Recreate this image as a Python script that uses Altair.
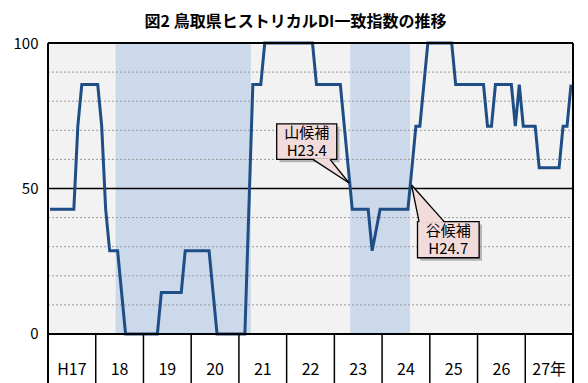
import altair as alt
import pandas as pd

FONT = "Noto Sans CJK JP"

title_text = "図2 鳥取県ヒストリカルDI一致指数の推移"
year_labels = ["H17", "18", "19", "20", "21", "22", "23", "24", "25", "26", "27年"]
year_bounds = [0, 12, 24, 36, 48, 60, 72, 84, 96, 108, 120, 132]

# monthly historical DI (coincident), H17.1 .. H27.12
di_values = [
    42.9, 42.9, 42.9, 42.9, 42.9, 42.9, 42.9, 71.4, 85.7, 85.7, 85.7, 85.7,   # H17
    85.7, 71.4, 42.9, 28.6, 28.6, 28.6, 14.3, 0.0, 0.0, 0.0, 0.0, 0.0,        # H18
    0.0, 0.0, 0.0, 0.0, 14.3, 14.3, 14.3, 14.3, 14.3, 14.3, 28.6, 28.6,       # H19
    28.6, 28.6, 28.6, 28.6, 28.6, 14.3, 0.0, 0.0, 0.0, 0.0, 0.0, 0.0,         # H20
    0.0, 0.0, 42.9, 85.7, 85.7, 85.7, 100.0, 100.0, 100.0, 100.0, 100.0, 100.0,  # H21
    100.0, 100.0, 100.0, 100.0, 100.0, 100.0, 100.0, 85.7, 85.7, 85.7, 85.7, 85.7,  # H22
    85.7, 85.7, 71.4, 57.1, 42.9, 42.9, 42.9, 42.9, 42.9, 28.6, 35.7, 42.9,   # H23
    42.9, 42.9, 42.9, 42.9, 42.9, 42.9, 42.9, 57.1, 71.4, 71.4, 85.7, 100.0,  # H24
    100.0, 100.0, 100.0, 100.0, 100.0, 100.0, 85.7, 85.7, 85.7, 85.7, 85.7, 85.7,  # H25
    85.7, 85.7, 71.4, 71.4, 85.7, 85.7, 85.7, 85.7, 85.7, 71.4, 85.7, 71.4,   # H26
    71.4, 71.4, 71.4, 57.1, 57.1, 57.1, 57.1, 57.1, 57.1, 71.4, 71.4, 85.7,   # H27
]
month_index = list(range(len(di_values)))

# shaded (downturn) periods in month units: from month after peak to month after trough
shade_start = [17, 76]
shade_end = [51, 91]

grid_levels = [10, 20, 30, 40, 60, 70, 80, 90]

# callouts
call_text = ["山候補\nH23.4", "谷候補\nH24.7"]
box_x1 = [57.5, 92.9]
box_x2 = [72.6, 108.4]
box_y1 = [60.0, 26.2]
box_y2 = [72.2, 38.6]
tip_x = [75.7, 91.4]
tip_y = [51.9, 51.2]
base_xa = [66.6, 93.3]
base_xb = [70.9, 99.6]

Y_MIN = -16.84
XS = alt.Scale(domain=[0, 132], nice=False, zero=False)
YS = alt.Scale(domain=[Y_MIN, 100], nice=False, zero=False)

df = pd.DataFrame({"m": [i + 0.5 for i in month_index], "v": di_values})
bg_df = pd.DataFrame({"x1": [0], "x2": [132], "y1": [0], "y2": [100]})
shade_df = pd.DataFrame({"x1": shade_start, "x2": shade_end})
grid_df = pd.DataFrame({"g": grid_levels})
years_df = pd.DataFrame({"c": [b + 6 for b in year_bounds[:-1]], "t": year_labels})
sep_df = pd.DataFrame({"b": year_bounds})

box_df = pd.DataFrame({"x1": box_x1, "x2": box_x2, "y1": box_y1, "y2": box_y2})
shadow_df = pd.DataFrame({"x1": [a + 0.7 for a in box_x1], "x2": [a + 0.7 for a in box_x2],
                          "y1": [a - 1.0 for a in box_y1], "y2": [a - 1.0 for a in box_y2]})

# triangle pointers
rows_area = []
rows_edge = []
# callout 1: base on bottom edge, tip to lower right
yb = box_y1[0] + 0.35
ac_at_xb = yb + (tip_y[0] - yb) * (base_xb[0] - base_xa[0]) / (tip_x[0] - base_xa[0])
rows_area += [
    {"k": 0, "x": base_xa[0], "y": yb, "y2": yb},
    {"k": 0, "x": base_xb[0], "y": yb, "y2": ac_at_xb},
    {"k": 0, "x": tip_x[0], "y": tip_y[0], "y2": tip_y[0]},
]
# callout 2: base on top edge, tip to upper left
yb2 = box_y2[1] - 0.35
cb_at_xa = tip_y[1] + (yb2 - tip_y[1]) * (base_xa[1] - tip_x[1]) / (base_xb[1] - tip_x[1])
rows_area += [
    {"k": 1, "x": tip_x[1], "y": tip_y[1], "y2": tip_y[1]},
    {"k": 1, "x": base_xa[1], "y": cb_at_xa, "y2": yb2},
    {"k": 1, "x": base_xb[1], "y": yb2, "y2": yb2},
]
for k, ybase in enumerate([box_y1[0], box_y2[1]]):
    rows_edge += [
        {"e": f"{k}a", "o": 0, "x": base_xa[k], "y": ybase},
        {"e": f"{k}a", "o": 1, "x": tip_x[k], "y": tip_y[k]},
        {"e": f"{k}b", "o": 0, "x": base_xb[k], "y": ybase},
        {"e": f"{k}b", "o": 1, "x": tip_x[k], "y": tip_y[k]},
    ]
area_df = pd.DataFrame(rows_area)
edge_df = pd.DataFrame(rows_edge)
# first line placed half a line above the box centre; the second follows 18px below
text_df = pd.DataFrame({
    "x": [(a + b) / 2 for a, b in zip(box_x1, box_x2)],
    "y": [(a + b) / 2 + 3.1 for a, b in zip(box_y1, box_y2)],
    "t": call_text,
})

bg = alt.Chart(bg_df).mark_rect(color="#f2f2f2").encode(
    x=alt.X("x1:Q", scale=XS, axis=None), x2="x2:Q",
    y=alt.Y("y1:Q", scale=YS, axis=alt.Axis(values=[0, 50, 100], labelFontSize=15, labelFont=FONT,
                                            labelColor="black", ticks=False, domain=False, grid=False,
                                            title=None, labelPadding=10)),
    y2="y2:Q",
)
shade = alt.Chart(shade_df).mark_rect(color="#cbd9ea").encode(
    x=alt.X("x1:Q", scale=XS), x2="x2:Q",
    y=alt.datum(0, scale=YS), y2=alt.datum(100),
)
grid = alt.Chart(grid_df).mark_rule(color="#9a9a9a", strokeWidth=1, strokeDash=[2, 2]).encode(
    y=alt.Y("g:Q", scale=YS), x=alt.datum(0, scale=XS), x2=alt.datum(132),
)
fifty = alt.Chart(pd.DataFrame({"g": [50]})).mark_rule(color="black", strokeWidth=1.6).encode(
    y=alt.Y("g:Q", scale=YS), x=alt.datum(0, scale=XS), x2=alt.datum(132),
)
hlines = alt.Chart(pd.DataFrame({"g": [0, 100]})).mark_rule(color="black", strokeWidth=2).encode(
    y=alt.Y("g:Q", scale=YS), x=alt.datum(0, scale=XS), x2=alt.datum(132),
)
seps = alt.Chart(sep_df).mark_rule(color="black", strokeWidth=1.5).encode(
    x=alt.X("b:Q", scale=XS), y=alt.datum(Y_MIN, scale=YS), y2=alt.datum(0),
)
sides = alt.Chart(pd.DataFrame({"b": [0, 132]})).mark_rule(color="black", strokeWidth=2).encode(
    x=alt.X("b:Q", scale=XS), y=alt.datum(Y_MIN, scale=YS), y2=alt.datum(100),
)
line = alt.Chart(df).mark_line(color="#1f4e86", strokeWidth=3).encode(
    x=alt.X("m:Q", scale=XS), y=alt.Y("v:Q", scale=YS),
)
years = alt.Chart(years_df).mark_text(fontSize=16, font=FONT, color="black", baseline="middle").encode(
    x=alt.X("c:Q", scale=XS), y=alt.datum(-12.4, scale=YS), text="t:N",
)
shadow = alt.Chart(shadow_df).mark_rect(color="#8c8c8c", opacity=0.6).encode(
    x=alt.X("x1:Q", scale=XS), x2="x2:Q", y=alt.Y("y1:Q", scale=YS), y2="y2:Q",
)
box = alt.Chart(box_df).mark_rect(fill="#f2dcdb", stroke="black", strokeWidth=1.3).encode(
    x=alt.X("x1:Q", scale=XS), x2="x2:Q", y=alt.Y("y1:Q", scale=YS), y2="y2:Q",
)
tri = alt.Chart(area_df).mark_area(color="#f2dcdb", opacity=1).encode(
    x=alt.X("x:Q", scale=XS), y=alt.Y("y:Q", scale=YS), y2="y2:Q", detail="k:N",
)
edges = alt.Chart(edge_df).mark_line(color="black", strokeWidth=1.3).encode(
    x=alt.X("x:Q", scale=XS), y=alt.Y("y:Q", scale=YS), detail="e:N", order="o:Q",
)
texts = alt.Chart(text_df).mark_text(fontSize=15, font=FONT, color="black", baseline="middle",
                                     lineBreak="\n", lineHeight=18).encode(
    x=alt.X("x:Q", scale=XS), y=alt.Y("y:Q", scale=YS), text="t:N",
)

chart = alt.layer(
    bg, shade, grid, fifty, line, hlines, seps, sides, years, shadow, box, tri, edges, texts
).properties(
    width=525, height=340,
    autosize=alt.AutoSizeParams(type="none"),
    padding={"left": 40, "top": 35, "right": 7, "bottom": 0},
    title=alt.TitleParams(title_text, fontSize=16, fontWeight="bold", font=FONT, color="black",
                          anchor="middle", frame="group", dx=-15, offset=6),
).configure_view(stroke=None)

chart.save("out.html", embed_options={"renderer": "svg", "actions": False})
